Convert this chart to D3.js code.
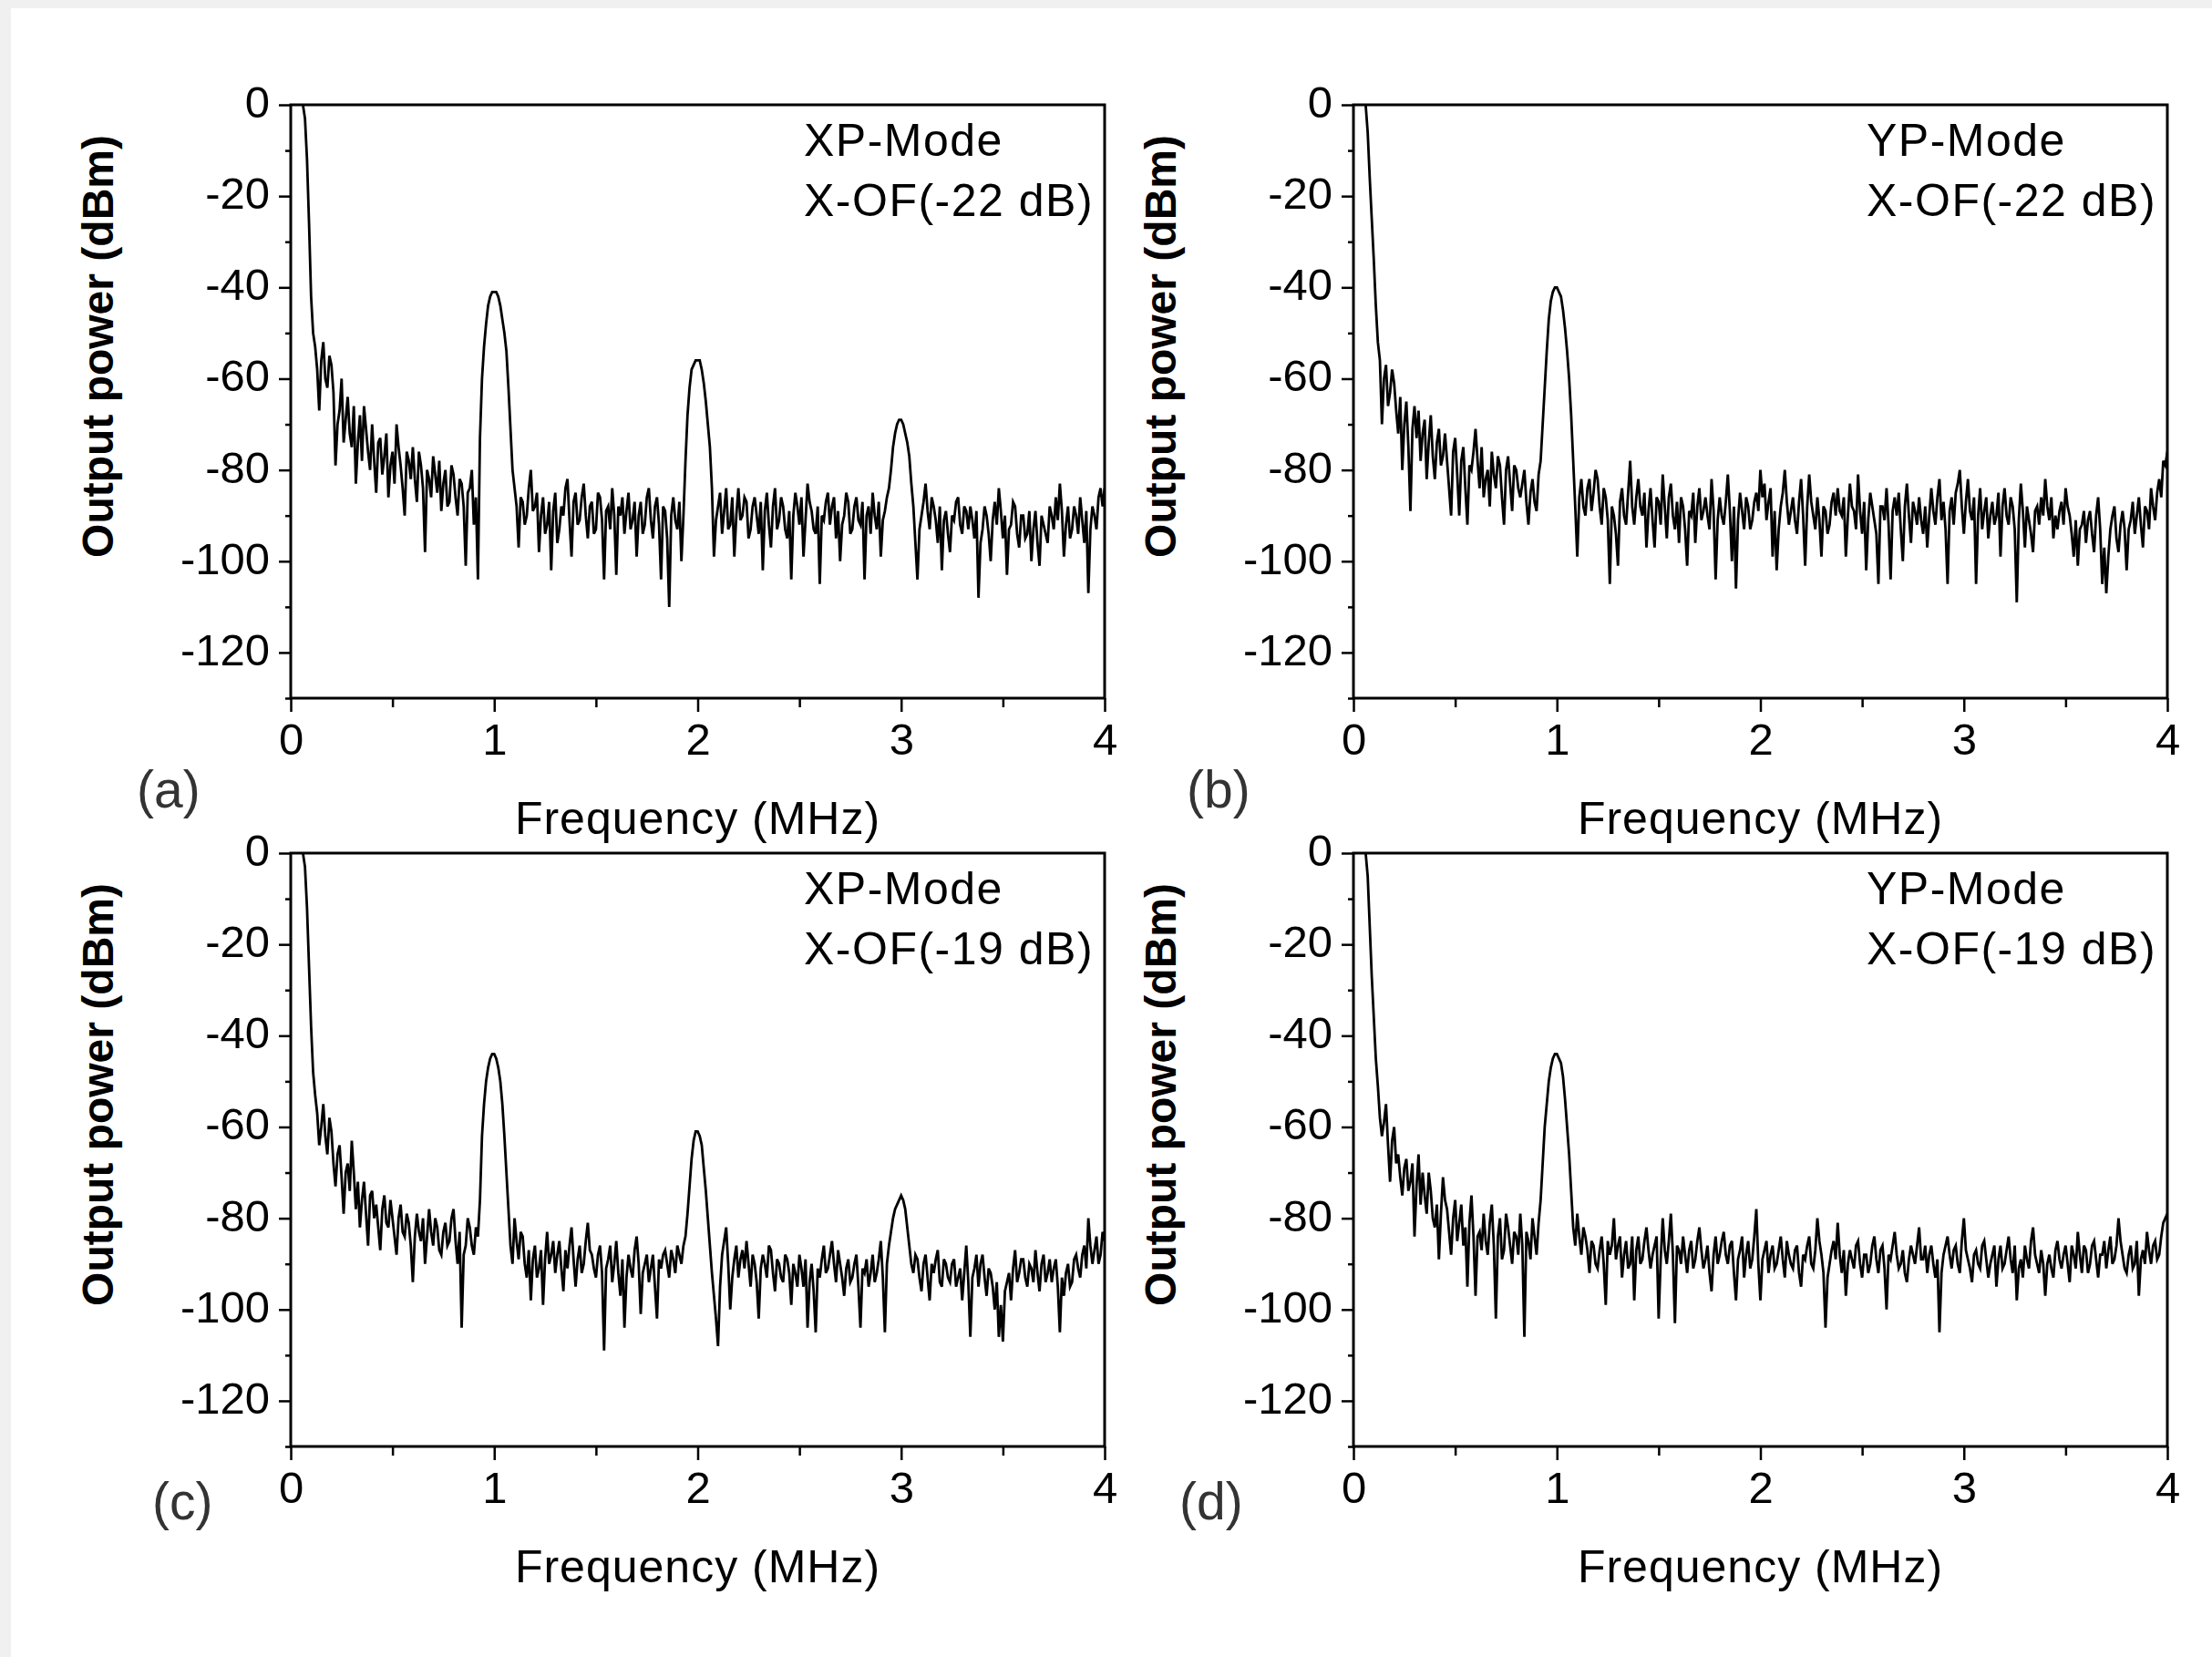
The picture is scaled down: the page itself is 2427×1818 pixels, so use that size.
<!DOCTYPE html>
<html>
<head>
<meta charset="utf-8">
<script src="https://cdn.jsdelivr.net/npm/d3@7"></script>
<style>
  body { margin: 0; background: #f0f0f0; }
  svg { display: block; }
  text { font-family: "Liberation Sans", Arial, sans-serif; fill: #000; }
</style>
</head>
<body>
<svg id="chart" width="2427" height="1818"></svg>
<script>
// spectrum grid: 0 .. 4 MHz, one sample every 0.01 MHz (401 samples)
var freqStart = 0, freqStep = 0.01;

// (a) XP-Mode, X-OF(-22 dB)   values in dBm, one row = 0.2 MHz
var specA = [
  null,null,null,null,null,null,0,-3,-12,-26,-42,-50,-53,-58,-67,-56,-52,-60,-62,-55,
  -57,-63,-79,-70,-67,-60,-74,-69,-64,-72,-75,-66,-83,-74,-68,-78,-66,-71,-76,-80,
  -70,-78,-85,-74,-73,-81,-77,-72,-86,-79,-76,-83,-70,-75,-79,-84,-90,-76,-78,-82,
  -75,-82,-87,-76,-79,-84,-98,-80,-82,-86,-77,-81,-85,-78,-89,-83,-80,-88,-87,-79,
  -81,-86,-90,-82,-83,-88,-101,-85,-84,-80,-92,-86,-104,-73,-60,-53,-48,-44,-42,-41,
  -41,-41,-42,-44,-47,-50,-54,-62,-71,-80,-84,-88,-97,-86,-87,-92,-90,-84,-80,-89,
  -88,-85,-98,-90,-86,-94,-92,-87,-102,-89,-85,-96,-93,-88,-90,-84,-82,-91,-99,-87,
  -85,-92,-91,-86,-83,-90,-95,-88,-87,-94,-93,-85,-86,-91,-104,-89,-88,-93,-84,-90,
  -103,-88,-90,-86,-94,-89,-85,-93,-91,-87,-99,-90,-87,-94,-92,-86,-84,-91,-95,-88,
  -86,-92,-104,-88,-89,-95,-110,-90,-86,-91,-93,-87,-100,-90,-78,-68,-62,-58,-57,-56,
  -56,-56,-58,-61,-65,-70,-75,-84,-99,-91,-88,-85,-94,-89,-84,-93,-92,-86,-99,-90,
  -84,-91,-90,-86,-87,-95,-93,-88,-86,-90,-94,-87,-102,-89,-85,-92,-97,-88,-84,-93,
  -91,-86,-88,-93,-95,-89,-104,-90,-85,-88,-92,-86,-99,-91,-83,-87,-89,-93,-94,-88,
  -105,-90,-91,-87,-85,-92,-88,-86,-95,-89,-100,-92,-90,-85,-87,-94,-93,-88,-86,-91,
  -92,-87,-104,-90,-88,-94,-85,-90,-93,-87,-99,-91,-89,-86,-84,-80,-75,-72,-70,-69,
  -69,-70,-72,-74,-77,-83,-88,-96,-104,-93,-90,-87,-83,-89,-93,-86,-88,-91,-96,-88,
  -102,-91,-89,-94,-98,-90,-91,-87,-86,-92,-94,-88,-89,-93,-88,-91,-95,-89,-108,-96,
  -93,-88,-90,-94,-100,-91,-87,-92,-84,-89,-95,-90,-103,-93,-92,-87,-88,-94,-97,-90,
  -90,-95,-94,-89,-100,-93,-89,-96,-101,-90,-92,-94,-96,-88,-90,-93,-86,-91,-83,-89,
  -99,-92,-88,-95,-93,-88,-90,-94,-86,-91,-96,-89,-107,-93,-88,-90,-93,-86,-84,-88,
  -84
];

// (b) YP-Mode, X-OF(-22 dB)
var specB = [
  null,null,null,null,null,null,0,-6,-16,-25,-34,-44,-52,-56,-70,-60,-57,-66,-63,-58,
  -61,-67,-72,-64,-80,-70,-65,-75,-89,-71,-66,-73,-67,-78,-72,-69,-82,-74,-68,-77,
  -82,-74,-71,-79,-77,-72,-78,-84,-90,-76,-73,-81,-90,-78,-75,-84,-92,-79,-80,-76,
  -71,-78,-84,-75,-86,-82,-80,-88,-76,-81,-84,-77,-79,-86,-92,-80,-77,-83,-89,-79,
  -80,-84,-86,-83,-80,-87,-92,-85,-82,-87,-89,-81,-78,-70,-62,-54,-47,-43,-41,-40,
  -40,-41,-42,-45,-49,-54,-60,-68,-78,-88,-99,-86,-82,-88,-90,-84,-82,-89,-85,-80,
  -82,-88,-92,-84,-86,-91,-105,-88,-90,-94,-101,-87,-84,-90,-92,-85,-78,-88,-92,-86,
  -82,-88,-90,-85,-97,-89,-84,-91,-97,-86,-87,-92,-81,-88,-95,-86,-83,-90,-93,-87,
  -96,-86,-88,-93,-101,-89,-90,-85,-96,-88,-84,-91,-89,-86,-90,-93,-82,-89,-104,-91,
  -86,-90,-92,-87,-81,-89,-100,-88,-106,-91,-85,-89,-93,-86,-88,-93,-91,-87,-85,-89,
  -80,-86,-83,-91,-87,-84,-99,-89,-102,-93,-88,-85,-80,-87,-92,-89,-86,-91,-94,-87,
  -82,-90,-101,-88,-81,-87,-90,-93,-86,-91,-99,-88,-89,-94,-92,-87,-85,-90,-84,-89,
  -90,-86,-99,-90,-83,-88,-89,-93,-81,-89,-94,-87,-102,-91,-85,-88,-91,-94,-105,-88,
  -88,-91,-84,-92,-104,-89,-86,-90,-85,-93,-100,-88,-83,-90,-96,-87,-89,-92,-86,-91,
  -94,-88,-97,-90,-84,-89,-92,-86,-82,-91,-87,-93,-105,-89,-86,-92,-85,-83,-80,-88,
  -94,-87,-82,-89,-91,-86,-105,-90,-84,-93,-89,-86,-95,-90,-87,-92,-90,-85,-99,-88,
  -84,-90,-92,-86,-88,-93,-109,-91,-83,-89,-97,-88,-91,-94,-98,-89,-88,-92,-86,-90,
  -82,-88,-91,-86,-95,-90,-93,-89,-87,-92,-84,-88,-90,-94,-99,-91,-101,-93,-92,-89,
  -96,-91,-89,-94,-98,-90,-86,-93,-105,-97,-107,-99,-93,-90,-88,-95,-98,-92,-89,-93,
  -102,-93,-91,-87,-94,-90,-86,-92,-97,-88,-89,-93,-84,-88,-91,-85,-82,-86,-78,-79,
  -76
];

// (c) XP-Mode, X-OF(-19 dB)
var specC = [
  null,null,null,null,null,null,0,-3,-12,-25,-38,-48,-53,-57,-64,-60,-55,-62,-66,-58,
  -61,-68,-73,-66,-64,-71,-79,-70,-68,-74,-63,-70,-78,-72,-82,-76,-72,-79,-86,-75,
  -74,-80,-77,-82,-87,-78,-75,-81,-82,-76,-80,-84,-88,-80,-77,-83,-84,-79,-81,-86,
  -94,-84,-79,-83,-85,-80,-90,-84,-78,-83,-86,-80,-82,-87,-88,-83,-81,-86,-85,-80,
  -78,-85,-90,-83,-104,-88,-86,-80,-82,-86,-88,-82,-84,-76,-62,-55,-50,-47,-45,-44,
  -44,-45,-47,-50,-55,-62,-70,-78,-86,-90,-80,-85,-89,-83,-84,-90,-93,-87,-98,-89,
  -86,-93,-91,-87,-99,-89,-83,-90,-88,-85,-92,-88,-85,-91,-96,-87,-91,-86,-82,-89,
  -95,-89,-86,-92,-90,-85,-81,-87,-88,-91,-93,-88,-86,-92,-109,-91,-89,-86,-94,-90,
  -85,-92,-97,-89,-104,-93,-88,-91,-93,-87,-84,-90,-101,-92,-90,-88,-94,-91,-88,-95,
  -102,-89,-91,-88,-87,-90,-93,-87,-89,-92,-86,-88,-90,-86,-84,-79,-73,-67,-63,-61,
  -61,-62,-64,-69,-74,-80,-86,-92,-97,-102,-108,-95,-88,-85,-82,-90,-100,-93,-89,-86,
  -93,-89,-87,-91,-85,-90,-95,-88,-90,-94,-102,-91,-88,-90,-93,-86,-87,-92,-96,-89,
  -90,-93,-94,-88,-89,-92,-99,-90,-92,-95,-88,-91,-95,-89,-104,-94,-90,-96,-105,-91,
  -93,-89,-86,-92,-91,-88,-85,-90,-94,-87,-90,-93,-97,-91,-89,-94,-93,-90,-88,-95,
  -104,-91,-92,-89,-95,-92,-88,-94,-92,-89,-85,-93,-105,-90,-86,-83,-80,-78,-77,-76,
  -75,-76,-78,-82,-86,-90,-92,-88,-89,-93,-96,-90,-88,-93,-98,-90,-92,-89,-87,-94,
  -95,-89,-90,-93,-94,-90,-89,-95,-93,-91,-98,-92,-86,-94,-106,-93,-91,-88,-95,-90,
  -88,-93,-97,-91,-92,-95,-100,-94,-106,-99,-107,-96,-94,-92,-98,-91,-87,-94,-92,-89,
  -89,-93,-95,-90,-91,-94,-87,-92,-96,-90,-88,-94,-92,-89,-94,-91,-89,-95,-105,-93,
  -97,-92,-90,-95,-94,-89,-88,-91,-93,-88,-86,-91,-80,-86,-90,-87,-84,-90,-88,-83,
  -85
];

// (d) YP-Mode, X-OF(-19 dB)
var specD = [
  null,null,null,null,null,null,0,-5,-16,-27,-36,-45,-51,-58,-62,-59,-55,-64,-72,-63,
  -60,-68,-66,-71,-75,-69,-67,-74,-72,-68,-84,-73,-66,-77,-70,-75,-79,-70,-74,-80,
  -82,-77,-89,-79,-71,-76,-78,-83,-88,-80,-76,-85,-81,-77,-86,-82,-95,-81,-75,-84,
  -97,-84,-83,-87,-79,-85,-88,-81,-77,-86,-102,-84,-80,-89,-87,-79,-82,-86,-90,-83,
  -84,-88,-79,-86,-106,-83,-85,-89,-80,-84,-88,-81,-76,-68,-60,-55,-50,-47,-45,-44,
  -44,-45,-46,-49,-54,-60,-66,-74,-82,-86,-79,-84,-88,-82,-84,-87,-92,-85,-86,-90,
  -91,-87,-84,-90,-99,-85,-88,-86,-80,-89,-86,-84,-93,-88,-85,-91,-90,-84,-98,-87,
  -84,-90,-89,-85,-82,-87,-91,-88,-86,-84,-102,-89,-80,-87,-90,-85,-79,-88,-103,-86,
  -87,-90,-84,-88,-92,-87,-85,-91,-89,-85,-82,-87,-91,-89,-86,-92,-96,-88,-84,-90,
  -88,-85,-83,-88,-90,-86,-85,-92,-98,-89,-87,-84,-93,-88,-85,-91,-89,-84,-78,-90,
  -98,-89,-87,-85,-92,-88,-86,-91,-90,-87,-84,-89,-93,-85,-88,-90,-91,-87,-86,-92,
  -95,-88,-89,-86,-84,-90,-91,-87,-80,-85,-88,-92,-104,-93,-90,-87,-85,-89,-81,-88,
  -92,-87,-97,-90,-87,-89,-91,-86,-85,-90,-93,-88,-88,-92,-90,-86,-84,-89,-92,-87,
  -86,-91,-100,-88,-89,-86,-83,-88,-91,-90,-87,-92,-94,-89,-86,-88,-90,-86,-82,-89,
  -89,-86,-92,-88,-86,-90,-93,-89,-105,-92,-88,-86,-84,-88,-91,-87,-86,-90,-92,-85,
  -80,-87,-89,-91,-94,-88,-87,-90,-91,-86,-85,-89,-93,-90,-88,-86,-95,-89,-86,-91,
  -90,-87,-84,-89,-92,-86,-98,-91,-89,-93,-86,-89,-91,-85,-82,-88,-90,-92,-87,-90,
  -97,-90,-88,-91,-93,-87,-85,-89,-91,-88,-86,-90,-94,-86,-88,-91,-83,-88,-92,-86,
  -87,-92,-90,-86,-85,-89,-93,-88,-88,-85,-91,-87,-84,-90,-89,-86,-80,-85,-88,-91,
  -92,-88,-86,-91,-90,-85,-97,-89,-87,-90,-83,-87,-90,-86,-85,-89,-88,-84,-81,-80,
  -79
];

var xTicks = [0, 1, 2, 3, 4];
var xMinor = [0.5, 1.5, 2.5, 3.5];
var yTicks = [0, -20, -40, -60, -80, -100, -120];
var yMinor = [-10, -30, -50, -70, -90, -110, -130];

var modes = ["XP-Mode", "YP-Mode", "XP-Mode", "YP-Mode"];
var filters = ["X-OF(-22 dB)", "X-OF(-22 dB)", "X-OF(-19 dB)", "X-OF(-19 dB)"];
var letters = ["(a)", "(b)", "(c)", "(d)"];

var W = 893, H = 651;
var panels = [
  {spec: specA, left: 319,  top: 115, letterX: 150,  letterY: 771},
  {spec: specB, left: 1485, top: 115, letterX: 1302, letterY: 771},
  {spec: specC, left: 319,  top: 936, letterX: 167,  letterY: 731},
  {spec: specD, left: 1485, top: 936, letterX: 1294, letterY: 731}
];

var svg = d3.select("#chart");
svg.append("rect").attr("width", 2427).attr("height", 1818).attr("fill", "#f0f0f0");
svg.append("rect").attr("x", 12).attr("y", 9).attr("width", 2415).attr("height", 1809).attr("fill", "#fff");

var font = '"Liberation Sans", Arial, sans-serif';

function styleAxis(a) {
  a.attr("font-family", font).attr("font-size", 49);
  a.select(".domain").remove();
  a.selectAll("line").attr("stroke-width", 2.5);
}

panels.forEach(function(p, i) {
  var x = d3.scaleLinear().domain([0, 4]).range([0, W]);
  var y = d3.scaleLinear().domain([-130, 0]).range([H, 0]);

  var g = svg.append("g").attr("transform", "translate(" + p.left + "," + p.top + ")");

  g.append("clipPath").attr("id", "clip" + i)
    .append("rect").attr("width", W).attr("height", H);

  var line = d3.line()
    .defined(function(d) { return d != null; })
    .x(function(d, j) { return x(freqStart + j * freqStep); })
    .y(function(d) { return y(d); });

  g.append("path")
    .datum(p.spec)
    .attr("clip-path", "url(#clip" + i + ")")
    .attr("fill", "none")
    .attr("stroke", "#000")
    .attr("stroke-width", 2.8)
    .attr("d", line);

  // x axis: minor then major ticks
  g.append("g")
    .attr("transform", "translate(0," + H + ")")
    .call(d3.axisBottom(x).tickValues(xMinor).tickSize(10).tickSizeOuter(0).tickFormat(""))
    .call(styleAxis);

  g.append("g")
    .attr("transform", "translate(0," + H + ")")
    .call(d3.axisBottom(x).tickValues(xTicks).tickSize(15).tickSizeOuter(0)
      .tickFormat(function(d) { return String(d); }))
    .call(styleAxis)
    .call(function(a) {
      a.selectAll("text").attr("y", 62).attr("dy", 0).attr("fill", "#000");
    });

  // y axis
  g.append("g")
    .call(d3.axisLeft(y).tickValues(yMinor).tickSize(6).tickSizeOuter(0).tickFormat(""))
    .call(styleAxis);

  g.append("g")
    .call(d3.axisLeft(y).tickValues(yTicks).tickSize(13).tickSizeOuter(0)
      .tickFormat(function(d) { return String(d); }))
    .call(styleAxis)
    .call(function(a) {
      a.selectAll("text").attr("x", -23).attr("dy", 13.5).attr("fill", "#000");
    });

  // frame
  g.append("rect")
    .attr("width", W).attr("height", H)
    .attr("fill", "none").attr("stroke", "#000").attr("stroke-width", 3);

  // annotations
  g.append("text").attr("x", 563).attr("y", 56)
    .attr("font-size", 50).style("letter-spacing", "1.5px")
    .text(modes[i]);
  g.append("text").attr("x", 563).attr("y", 122)
    .attr("font-size", 50).style("letter-spacing", "1.5px")
    .text(filters[i]);

  g.append("text").attr("x", W / 2).attr("y", 800)
    .attr("text-anchor", "middle")
    .attr("font-size", 50).style("letter-spacing", "1px")
    .text("Frequency (MHz)");

  svg.append("text")
    .attr("transform", "translate(" + (p.left - 195) + "," + (p.top + 265) + ") rotate(-90)")
    .attr("text-anchor", "middle")
    .attr("font-size", 48).attr("font-weight", "bold")
    .text("Output power (dBm)");

  svg.append("text")
    .attr("x", p.letterX).attr("y", p.top + p.letterY)
    .attr("font-size", 57)
    .style("fill", "#333")
    .text(letters[i]);
});
</script>
</body>
</html>
